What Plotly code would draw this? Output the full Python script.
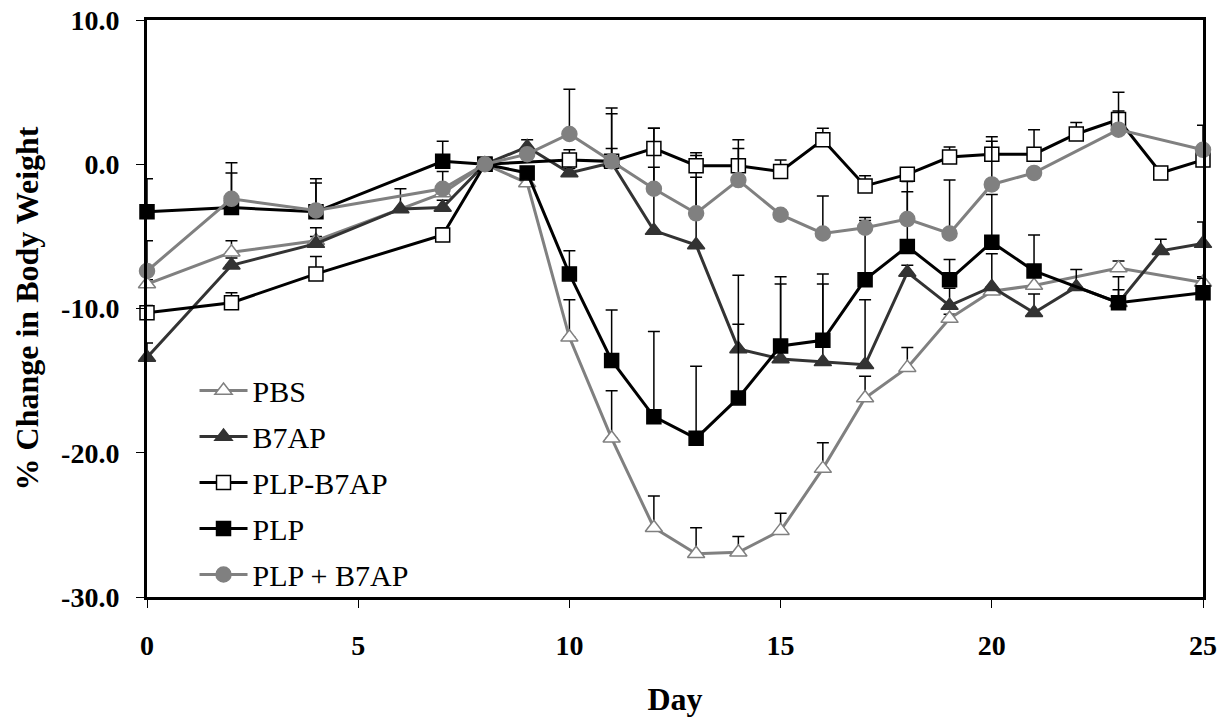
import plotly.graph_objects as go

# ---------------- data ----------------
pbs_days = [0, 2, 4, 7, 8, 9, 10, 11, 12, 13, 14, 15, 16, 17, 18, 19, 20, 21, 23, 25]
pbs_vals = [-8.3, -6.1, -5.3, -2.0, 0.0, -1.3, -12.0, -19.0, -25.2, -27.0, -26.9, -25.4, -21.1, -16.2, -14.1, -10.7, -8.8, -8.4, -7.2, -8.2]
pbs_err = [0.3, 0.8, 0.3, 0.5, 0.0, 0.3, 2.6, 3.3, 2.2, 1.8, 1.1, 1.2, 1.8, 1.5, 1.4, 0.3, 0.3, 1.1, 0.5, 0.4]

b7ap_days = [0, 2, 4, 6, 7, 8, 9, 10, 11, 12, 13, 14, 15, 16, 17, 18, 19, 20, 21, 22, 23, 24, 25]
b7ap_vals = [-13.4, -7.0, -5.5, -3.1, -3.0, 0.0, 1.2, -0.6, 0.1, -4.6, -5.6, -12.8, -13.5, -13.7, -13.9, -7.5, -9.8, -8.5, -10.3, -8.5, -9.6, -6.0, -5.5]
b7ap_err = [1.0, 0.5, 1.1, 1.4, 0.5, 0.0, 0.5, 0.3, 3.8, 4.4, 6.2, 1.7, 5.2, 5.4, 4.5, 0.5, 1.2, 2.3, 1.3, 1.2, 1.8, 0.8, 1.5]

plpb7ap_days = [0, 2, 4, 7, 8, 10, 11, 12, 13, 14, 15, 16, 17, 18, 19, 20, 21, 22, 23, 24, 25]
plpb7ap_vals = [-10.3, -9.6, -7.6, -4.9, 0.0, 0.3, 0.2, 1.1, -0.1, -0.1, -0.5, 1.7, -1.5, -0.7, 0.5, 0.7, 0.7, 2.1, 3.1, -0.6, 0.3]
plpb7ap_err = [0.5, 0.7, 1.2, 0.5, 0.0, 0.7, 0.9, 1.4, 0.9, 1.2, 0.8, 0.8, 0.7, 0.3, 0.7, 1.2, 1.7, 0.8, 1.9, 0.2, 0.2]

plp_days = [0, 2, 4, 7, 8, 9, 10, 11, 12, 13, 14, 15, 16, 17, 18, 19, 20, 21, 23, 25]
plp_vals = [-3.3, -3.0, -3.3, 0.2, 0.0, -0.6, -7.6, -13.6, -17.5, -19.0, -16.2, -12.6, -12.2, -8.0, -5.7, -8.0, -5.4, -7.4, -9.6, -8.9]
plp_err = [2.3, 2.4, 2.3, 1.4, 0.0, 0.2, 1.6, 3.5, 5.9, 5.0, 8.5, 4.8, 4.6, 4.3, 3.8, 1.4, 3.3, 2.5, 0.9, 1.0]

combo_days = [0, 2, 4, 7, 8, 9, 10, 11, 12, 13, 14, 15, 16, 17, 18, 19, 20, 21, 23, 25]
combo_vals = [-7.4, -2.4, -3.2, -1.7, 0.0, 0.7, 2.1, 0.2, -1.7, -3.4, -1.1, -3.5, -4.8, -4.4, -3.8, -4.8, -1.4, -0.6, 2.4, 1.0]
combo_err = [2.1, 2.5, 1.9, 1.2, 0.0, 0.3, 3.1, 3.3, 4.2, 2.5, 2.8, 0.3, 2.6, 0.5, 2.6, 3.7, 3.0, 0.3, 1.3, 1.7]

x_ticks = [0, 5, 10, 15, 20, 25]
y_ticks = [-30, -20, -10, 0, 10]
y_tick_labels = ["-30.0", "-20.0", "-10.0", "0.0", "10.0"]

FONT = "Liberation Serif"

fig = go.Figure()


def add(name, days, vals, errs, line_color, symbol, fill, outline, size):
    fig.add_trace(go.Scatter(
        x=days, y=vals, name=name, mode="lines+markers",
        legendgroup=name, cliponaxis=False,
        line=dict(color=line_color, width=3),
        marker=dict(symbol=symbol, size=size, color=fill,
                    line=dict(color=outline, width=1.5)),
        error_y=dict(type="data", symmetric=False, array=errs,
                     arrayminus=[0] * len(errs), color="black",
                     thickness=1.5, width=6),
    ))


add("PBS", pbs_days, pbs_vals, pbs_err, "#808080", "triangle-up", "white", "#808080", 15)
add("B7AP", b7ap_days, b7ap_vals, b7ap_err, "#333333", "triangle-up", "#333333", "#333333", 15)
add("PLP-B7AP", plpb7ap_days, plpb7ap_vals, plpb7ap_err, "black", "square", "white", "black", 14)
add("PLP", plp_days, plp_vals, plp_err, "black", "square", "black", "black", 14)
add("PLP + B7AP", combo_days, combo_vals, combo_err, "#808080", "circle", "#808080", "#808080", 15)

fig.update_layout(
    width=1222, height=717,
    margin=dict(l=147, r=19, t=20, b=120, autoexpand=False),
    plot_bgcolor="white", paper_bgcolor="white",
    font=dict(family=FONT, color="black"),
    showlegend=True,
    legend=dict(x=0.045, y=0.403, xanchor="left", yanchor="top",
                bgcolor="rgba(0,0,0,0)", itemwidth=48, tracegroupgap=4,
                font=dict(family=FONT, size=30, color="black")),
    xaxis=dict(range=[0, 25], tickvals=x_ticks, ticks="outside", ticklen=8,
               tickcolor="black", tickwidth=1, showline=True, linecolor="black",
               linewidth=3, mirror=True, showgrid=False, zeroline=False,
               automargin=False, ticklabelstandoff=13,
               tickfont=dict(family=FONT, size=28, weight="bold"),
               title=dict(text="Day", standoff=34,
                          font=dict(family=FONT, size=32, weight="bold"))),
    yaxis=dict(range=[-30, 10], tickvals=y_ticks, ticktext=y_tick_labels,
               ticks="outside", ticklen=8, tickcolor="black", tickwidth=1,
               showline=True, linecolor="black", linewidth=3, mirror=True,
               showgrid=False, zeroline=False, automargin=False,
               ticklabelstandoff=11,
               tickfont=dict(family=FONT, size=28, weight="bold"),
               title=dict(text="% Change in Body Weight", standoff=13,
                          font=dict(family=FONT, size=32, weight="bold"))),
)

fig.write_html("out.html")
